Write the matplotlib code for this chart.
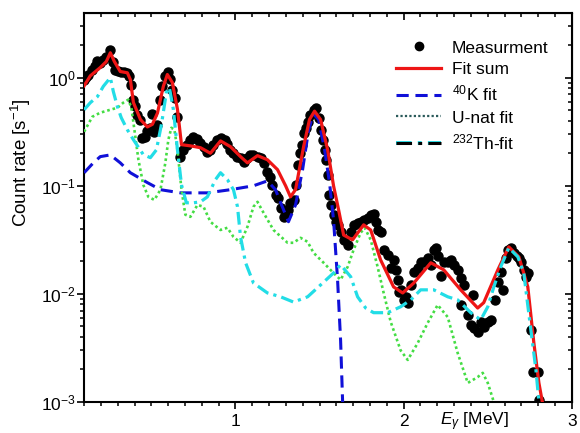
import numpy as np
import matplotlib
matplotlib.use("Agg")
import matplotlib.pyplot as plt
from matplotlib.lines import Line2D
from matplotlib.legend_handler import HandlerTuple
from matplotlib.ticker import MultipleLocator, FixedLocator, LogLocator, NullFormatter

plt.rcParams["font.family"] = ["Liberation Sans", "DejaVu Sans"]
plt.rcParams["mathtext.fontset"] = "custom"
plt.rcParams["mathtext.rm"] = "Liberation Sans"
plt.rcParams["mathtext.it"] = "Liberation Sans:italic"
plt.rcParams["font.size"] = 12.5

# ── Measured spectrum (energy in MeV, count rate in 1/s) ──────
meas_E = [0.101, 0.113, 0.125, 0.149, 0.167, 0.179, 0.196, 0.214, 0.232, 0.256,
          0.274, 0.286, 0.304, 0.321, 0.339, 0.357, 0.369, 0.381, 0.393, 0.405,
          0.417, 0.435, 0.446, 0.464, 0.476, 0.494, 0.506, 0.518, 0.536, 0.554,
          0.565, 0.583, 0.601, 0.613, 0.625, 0.643, 0.655, 0.673, 0.690, 0.714,
          0.732, 0.750, 0.774, 0.792, 0.810, 0.833, 0.851, 0.869, 0.893, 0.911,
          0.935, 0.952, 0.970, 0.988, 1.012, 1.030, 1.048, 1.071, 1.089, 1.107,
          1.131, 1.149, 1.167, 1.190, 1.208, 1.220, 1.238, 1.250, 1.268, 1.286,
          1.298, 1.310, 1.327, 1.345, 1.357, 1.369, 1.381, 1.393, 1.405, 1.417,
          1.429, 1.446, 1.464, 1.476, 1.494, 1.506, 1.518, 1.530, 1.536, 1.548,
          1.554, 1.565, 1.583, 1.595, 1.607, 1.625, 1.643, 1.667, 1.685, 1.702,
          1.726, 1.744, 1.762, 1.786, 1.804, 1.821, 1.833, 1.845, 1.863, 1.881,
          1.905, 1.923, 1.940, 1.952, 1.964, 1.970, 1.982, 2.000, 2.012, 2.024,
          2.042, 2.060, 2.083, 2.101, 2.119, 2.143, 2.161, 2.179, 2.190, 2.202,
          2.220, 2.238, 2.262, 2.280, 2.298, 2.321, 2.339, 2.339, 2.357, 2.381,
          2.399, 2.411, 2.417, 2.440, 2.458, 2.476, 2.500, 2.518, 2.542, 2.560,
          2.577, 2.589, 2.607, 2.619, 2.637, 2.655, 2.673, 2.685, 2.696, 2.714,
          2.726, 2.738, 2.756, 2.768, 2.798, 2.804]
meas_rate = [0.958, 1.022, 1.066, 1.186, 1.292, 1.437, 1.377, 1.468, 1.565, 1.817,
             1.406, 1.186, 1.161, 1.136, 1.136, 1.112, 1.044, 0.861, 0.626, 0.551,
             0.454, 0.409, 0.278, 0.284, 0.323, 0.344, 0.464, 0.316, 0.367, 0.626,
             0.843, 1.044, 1.136, 0.979, 0.774, 0.653, 0.435, 0.186, 0.215, 0.240,
             0.267, 0.284, 0.272, 0.250, 0.230, 0.206, 0.215, 0.240, 0.267, 0.278,
             0.267, 0.245, 0.215, 0.202, 0.186, 0.182, 0.167, 0.182, 0.194, 0.194,
             0.186, 0.182, 0.163, 0.135, 0.121, 0.102, 0.0826, 0.0774, 0.0626, 0.0516,
             0.0562, 0.060, 0.0696, 0.0742, 0.102, 0.156, 0.202, 0.240, 0.310, 0.344,
             0.392, 0.454, 0.505, 0.527, 0.426, 0.330, 0.267, 0.215, 0.174, 0.126,
             0.0826, 0.0667, 0.0539, 0.0464, 0.0435, 0.0375, 0.0316, 0.0284, 0.0375, 0.0435,
             0.0454, 0.0464, 0.0484, 0.0505, 0.0539, 0.0551, 0.0464, 0.0391, 0.0375, 0.0255,
             0.0230, 0.0174, 0.0206, 0.0167, 0.0135, 0.0104, 0.0109, 0.0088, 0.0094, 0.0083,
             0.0121, 0.0160, 0.0174, 0.0198, 0.0198, 0.0215, 0.0186, 0.0255, 0.0267, 0.0225,
             0.0147, 0.0198, 0.0198, 0.0206, 0.0186, 0.0167, 0.0141, 0.0079, 0.0121, 0.0064,
             0.0052, 0.0098, 0.0048, 0.0044, 0.0055, 0.0049, 0.0055, 0.0057, 0.0088, 0.0129,
             0.0160, 0.0109, 0.0215, 0.0255, 0.0267, 0.0240, 0.0225, 0.0215, 0.0198, 0.0167,
             0.0144, 0.0156, 0.0046, 0.0019, 0.0019, 0.00104]

# ── Fit sum ───────────────────────────────────────────────────
fit_E = [0.10, 0.137, 0.196, 0.232, 0.256, 0.28, 0.315, 0.357, 0.375, 0.393,
         0.435, 0.476, 0.506, 0.536, 0.571, 0.595, 0.625, 0.655, 0.679, 0.732,
         0.792, 0.851, 0.911, 0.970, 1.030, 1.071, 1.131, 1.19, 1.25, 1.298,
         1.327, 1.357, 1.405, 1.44, 1.47, 1.506, 1.548, 1.583, 1.613, 1.643,
         1.696, 1.762, 1.804, 1.863, 1.94, 1.994, 2.06, 2.161, 2.238, 2.339,
         2.44, 2.476, 2.56, 2.625, 2.685, 2.738, 2.774, 2.804, 2.827]
fit_rate = [0.84, 1.04, 1.24, 1.41, 1.70, 1.41, 1.14, 1.11, 0.96, 0.59,
            0.41, 0.35, 0.37, 0.47, 0.83, 1.07, 0.90, 0.51, 0.24, 0.234,
            0.225, 0.20, 0.26, 0.23, 0.186, 0.163, 0.19, 0.174, 0.141, 0.10,
            0.079, 0.092, 0.23, 0.41, 0.49, 0.41, 0.215, 0.10, 0.060, 0.035,
            0.0316, 0.0435, 0.039, 0.0206, 0.0116, 0.0102, 0.0126, 0.0194, 0.0167, 0.0109,
            0.0074, 0.0083, 0.0167, 0.0272, 0.022, 0.0116, 0.00352, 0.0015, 0.00095]

# ── 40K component ─────────────────────────────────────────────
k40_E = [0.10, 0.155, 0.196, 0.256, 0.315, 0.375, 0.476, 0.554, 0.673, 0.833,
         0.970, 1.107, 1.19, 1.238, 1.274, 1.315, 1.357, 1.399, 1.435, 1.464,
         1.494, 1.53, 1.56, 1.583, 1.607, 1.625, 1.637, 1.643]
k40_rate = [0.132, 0.163, 0.186, 0.193, 0.163, 0.132, 0.107, 0.092, 0.086, 0.086,
            0.092, 0.10, 0.111, 0.092, 0.0665, 0.0465, 0.0665, 0.141, 0.33, 0.46,
            0.41, 0.215, 0.104, 0.0484, 0.0135, 0.0037, 0.001, 0.0007]

# ── U-nat component ───────────────────────────────────────────
u_E = [0.10, 0.149, 0.196, 0.256, 0.298, 0.333, 0.363, 0.381, 0.399, 0.423,
       0.452, 0.482, 0.518, 0.554, 0.583, 0.601, 0.619, 0.637, 0.655, 0.679,
       0.702, 0.732, 0.774, 0.81, 0.851, 0.911, 0.952, 0.988, 1.03, 1.071,
       1.107, 1.131, 1.167, 1.226, 1.31, 1.345, 1.387, 1.429, 1.464, 1.524,
       1.583, 1.625, 1.667, 1.702, 1.744, 1.768, 1.804, 1.845, 1.881, 1.923,
       1.982, 2.024, 2.083, 2.143, 2.202, 2.262, 2.321, 2.381, 2.44, 2.47,
       2.50, 2.536, 2.548]
u_rate = [0.316, 0.435, 0.474, 0.505, 0.527, 0.587, 0.626, 0.527, 0.33, 0.174,
          0.102, 0.079, 0.074, 0.092, 0.163, 0.267, 0.344, 0.33, 0.215, 0.092,
          0.054, 0.0516, 0.0665, 0.064, 0.0464, 0.039, 0.0409, 0.0337, 0.0297, 0.0417,
          0.064, 0.071, 0.0562, 0.039, 0.0297, 0.0297, 0.033, 0.0303, 0.024, 0.0194,
          0.0156, 0.0135, 0.0178, 0.0255, 0.0367, 0.0409, 0.0316, 0.0178, 0.0102, 0.0055,
          0.0030, 0.00245, 0.0035, 0.0054, 0.0079, 0.0061, 0.00284, 0.0015, 0.0017, 0.00186,
          0.0015, 0.001, 0.00085]

# ── 232Th component ───────────────────────────────────────────
th_E = [0.10, 0.137, 0.179, 0.214, 0.256, 0.274, 0.298, 0.321, 0.357, 0.393,
        0.452, 0.494, 0.53, 0.56, 0.589, 0.607, 0.631, 0.655, 0.679, 0.708,
        0.75, 0.792, 0.833, 0.881, 0.911, 0.952, 0.988, 1.012, 1.03, 1.06,
        1.107, 1.19, 1.268, 1.345, 1.429, 1.506, 1.583, 1.625, 1.685, 1.726,
        1.774, 1.821, 1.905, 1.982, 2.042, 2.101, 2.179, 2.262, 2.321, 2.399,
        2.458, 2.50, 2.536, 2.577, 2.625, 2.679, 2.714, 2.756, 2.786, 2.804,
        2.81]
th_rate = [0.505, 0.587, 0.667, 0.83, 1.0, 0.742, 0.539, 0.426, 0.33, 0.267,
           0.194, 0.182, 0.215, 0.37, 0.727, 0.81, 0.505, 0.215, 0.102, 0.0696,
           0.0696, 0.071, 0.079, 0.114, 0.132, 0.114, 0.092, 0.064, 0.0337, 0.0194,
           0.0126, 0.0102, 0.0094, 0.0084, 0.0094, 0.0121, 0.0156, 0.0186, 0.0144, 0.0094,
           0.0074, 0.0067, 0.0067, 0.0076, 0.0088, 0.0109, 0.0109, 0.0094, 0.0088, 0.0067,
           0.00575, 0.0076, 0.0116, 0.0178, 0.0267, 0.022, 0.0156, 0.00465, 0.0020, 0.001,
           0.00075]

# ── Plot ──────────────────────────────────────────────────────
fig = plt.figure(figsize=(5.8, 4.33), dpi=100)
ax = fig.add_axes([0.145, 0.0716, 0.841, 0.898])

ax.plot(meas_E, meas_rate, "o", color="black", markersize=6.5, zorder=2)
ax.plot(k40_E, k40_rate, color="#1010d8", lw=2.2, dashes=(4, 2.2), zorder=3)
ax.plot(u_E, u_rate, color="#44dd44", lw=1.9, dashes=(1, 1.1), zorder=3)
ax.plot(fit_E, fit_rate, color="#ee1515", lw=2.3, zorder=4)
ax.plot(th_E, th_rate, color="#22dde6", lw=2.3, dashes=(4, 1.6, 1, 1.6), zorder=5)

ax.set_yscale("log")
ax.set_xlim(0.1, 3.0)
ax.set_ylim(1e-3, 3.95)

ax.xaxis.set_major_locator(FixedLocator([1, 2, 3]))
ax.xaxis.set_minor_locator(MultipleLocator(0.1))
ax.yaxis.set_major_locator(LogLocator(base=10))
ax.yaxis.set_minor_locator(LogLocator(base=10, subs=np.arange(2, 10)))
ax.yaxis.set_minor_formatter(NullFormatter())

for s in ax.spines.values():
    s.set_linewidth(1.5)
ax.tick_params(which="major", direction="out", length=5, width=1.2, pad=4)
ax.tick_params(axis="y", which="major", pad=1)
ax.tick_params(which="minor", direction="out", length=3, width=1.1)

# mirrored inward ticks on top and right
top = ax.secondary_xaxis("top")
top.xaxis.set_major_locator(FixedLocator([1, 2, 3]))
top.xaxis.set_minor_locator(MultipleLocator(0.1))
top.tick_params(which="major", direction="in", length=5, width=1.2, labeltop=False)
top.tick_params(which="minor", direction="in", length=3, width=1.1)
right = ax.secondary_yaxis("right")
right.yaxis.set_major_locator(LogLocator(base=10))
right.yaxis.set_minor_locator(LogLocator(base=10, subs=np.arange(2, 10)))
right.tick_params(which="major", direction="in", length=5, width=1.2, labelright=False)
right.tick_params(which="minor", direction="in", length=3, width=1.1, labelright=False)

ax.set_ylabel(r"Count rate [s$^{-1}$]", fontsize=13.5)
ax.yaxis.set_label_coords(-0.105, 0.615)
ax.set_xlabel(r"$E_\gamma$ [MeV]")
ax.xaxis.set_label_coords(0.80, -0.022)

# Th legend entry: black dash-dot drawn over a slightly wider cyan one
th_cyan_lw, th_black_lw = 2.8, 2.2
th_pattern = np.array([4, 1.6, 1, 1.6])
handles = [
    Line2D([], [], ls="none", marker="o", color="black", markersize=6),
    Line2D([], [], color="#ee1515", lw=2.3),
    Line2D([], [], color="#1010d8", lw=2.2, dashes=(4, 2.2)),
    Line2D([], [], color="#2a5a5a", lw=1.6, dashes=(1, 1)),
    (Line2D([], [], color="#22dde6", lw=th_cyan_lw, dashes=tuple(th_pattern)),
     Line2D([], [], color="black", lw=th_black_lw,
            dashes=tuple(th_pattern * th_cyan_lw / th_black_lw))),
]
labels = ["Measurment", "Fit sum", r"$^{40}$K fit", "U-nat fit", r"$^{232}$Th-fit"]
ax.legend(handles, labels, loc="upper left", bbox_to_anchor=(0.64, 0.93),
          frameon=False, borderpad=0, borderaxespad=0, handlelength=2.6,
          handletextpad=0.6, labelspacing=0.38, numpoints=1,
          handler_map={tuple: HandlerTuple(ndivide=1, pad=0)})

plt.savefig("out.png", dpi=100)
